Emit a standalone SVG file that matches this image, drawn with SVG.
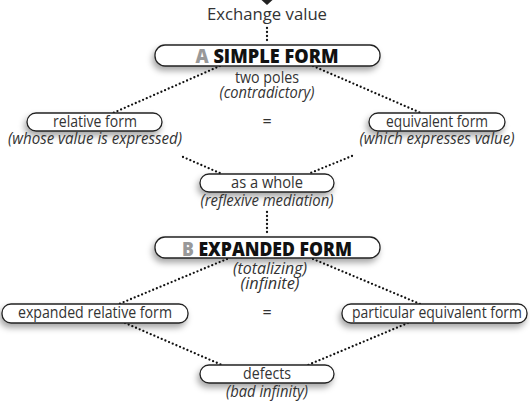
<svg xmlns="http://www.w3.org/2000/svg" width="530" height="404" viewBox="0 0 530 404">
<defs>
<filter id="sh" x="-20%" y="-50%" width="140%" height="250%">
<feDropShadow dx="-2" dy="4" stdDeviation="3" flood-color="#000" flood-opacity="0.35"/>
</filter>
<style>
.box{fill:#fff;stroke:#222;stroke-width:1.3;filter:url(#sh)}
.t{font-family:"Open Sans","Noto Sans",sans-serif;font-size:16px;fill:#333;text-anchor:middle}
.i{font-family:"Open Sans","Noto Sans",sans-serif;font-size:16px;font-style:italic;fill:#333;text-anchor:middle}
.h{font-family:"Open Sans","Noto Sans",sans-serif;font-size:19.5px;font-weight:800;fill:#111;text-anchor:middle}
.g{fill:#999}
.d{fill:none;stroke:#111;stroke-width:2.3;stroke-linecap:round;stroke-dasharray:0 4}
</style>
</defs>
<rect width="530" height="404" fill="#fff"/>
<g id="connectors">
<polygon points="261.5,0 272.5,0 267,5" fill="#222"/>
<line class="d" x1="267" y1="28" x2="267" y2="44"/>
<line class="d" x1="220" y1="66" x2="113" y2="113"/>
<line class="d" x1="313" y1="66" x2="421" y2="113"/>
<line class="d" x1="183" y1="157" x2="222" y2="174"/>
<line class="d" x1="352" y1="156" x2="308" y2="174"/>
<line class="d" x1="267" y1="212" x2="267" y2="236"/>
<line class="d" x1="227" y1="259" x2="119" y2="304"/>
<line class="d" x1="313" y1="259" x2="420" y2="304"/>
<line class="d" x1="125" y1="323" x2="222" y2="365"/>
<line class="d" x1="408" y1="323" x2="308" y2="365"/>
</g>
<g id="exchange">
<text class="t" x="267" y="20" textLength="120" lengthAdjust="spacingAndGlyphs">Exchange value</text>
</g>
<g id="simple-form">
<rect class="box" x="155" y="45" width="225" height="21" rx="10"/>
<text class="h" x="267" y="63" textLength="143" lengthAdjust="spacingAndGlyphs"><tspan class="g">A</tspan> SIMPLE FORM</text>
<text class="t" x="267" y="83" textLength="64" lengthAdjust="spacingAndGlyphs">two poles</text>
<text class="i" x="267" y="98" textLength="95" lengthAdjust="spacingAndGlyphs">(contradictory)</text>
</g>
<g id="relative-form">
<rect class="box" x="27" y="113" width="135" height="18" rx="9"/>
<text class="t" x="95" y="127" textLength="84" lengthAdjust="spacingAndGlyphs">relative form</text>
<text class="i" x="95" y="144" textLength="174" lengthAdjust="spacingAndGlyphs">(whose value is expressed)</text>
</g>
<g id="eq1"><text class="t" x="267" y="127">=</text></g>
<g id="equivalent-form">
<rect class="box" x="369" y="113" width="136" height="18" rx="9"/>
<text class="t" x="437" y="127" textLength="102" lengthAdjust="spacingAndGlyphs">equivalent form</text>
<text class="i" x="437" y="144" textLength="155" lengthAdjust="spacingAndGlyphs">(which expresses value)</text>
</g>
<g id="as-a-whole">
<rect class="box" x="200" y="174" width="134" height="18" rx="9"/>
<text class="t" x="267" y="188" textLength="72" lengthAdjust="spacingAndGlyphs">as a whole</text>
<text class="i" x="267" y="206" textLength="133" lengthAdjust="spacingAndGlyphs">(reflexive mediation)</text>
</g>
<g id="expanded-form">
<rect class="box" x="155" y="237" width="225" height="21" rx="10"/>
<text class="h" x="267" y="256" textLength="170" lengthAdjust="spacingAndGlyphs"><tspan class="g">B</tspan> EXPANDED FORM</text>
<text class="i" x="270" y="274" textLength="74" lengthAdjust="spacingAndGlyphs">(totalizing)</text>
<text class="i" x="270" y="289" textLength="59" lengthAdjust="spacingAndGlyphs">(infinite)</text>
</g>
<g id="expanded-relative-form">
<rect class="box" x="2" y="304" width="186" height="19" rx="9"/>
<text class="t" x="95" y="318" textLength="154" lengthAdjust="spacingAndGlyphs">expanded relative form</text>
</g>
<g id="eq2"><text class="t" x="267" y="318">=</text></g>
<g id="particular-equivalent-form">
<rect class="box" x="342" y="304" width="185" height="19" rx="9"/>
<text class="t" x="437" y="318" textLength="170" lengthAdjust="spacingAndGlyphs">particular equivalent form</text>
</g>
<g id="defects">
<rect class="box" x="200" y="365" width="134" height="18" rx="9"/>
<text class="t" x="267" y="379" textLength="48" lengthAdjust="spacingAndGlyphs">defects</text>
<text class="i" x="267" y="397" textLength="82" lengthAdjust="spacingAndGlyphs">(bad infinity)</text>
</g>
</svg>
